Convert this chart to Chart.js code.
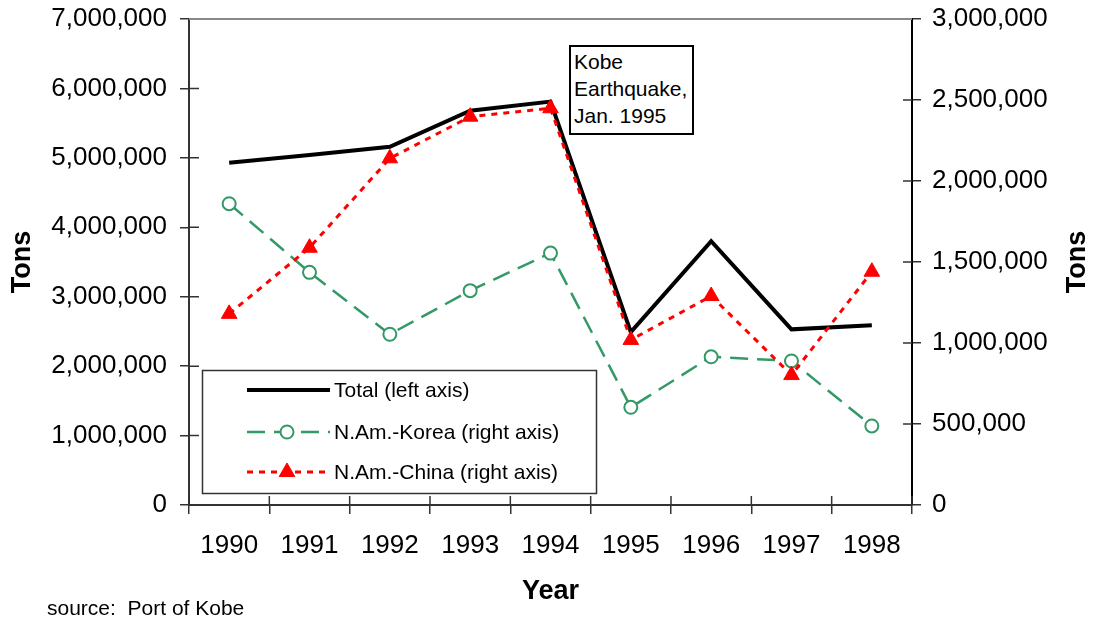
<!DOCTYPE html>
<html>
<head>
<meta charset="utf-8">
<script src="https://cdn.jsdelivr.net/npm/chart.js@4.4.1/dist/chart.umd.min.js"></script>
<style>
  html, body { margin: 0; padding: 0; background: #fff; }
  #wrap { position: relative; width: 1096px; height: 623px; overflow: hidden; }
  canvas { display: block; }
  .note {
    position: absolute; left: 569px; top: 45px; width: 118px; height: 85px;
    border: 2px solid #000; background: #fff; color: #000;
    font: 21px 'Liberation Sans', Arial, sans-serif; line-height: 27px;
    padding: 1px 0 0 3px;
  }
  .source {
    position: absolute; left: 47px; top: 596px; color: #000;
    font: 21px 'Liberation Sans', Arial, sans-serif; white-space: pre;
  }
</style>
</head>
<body>
<div id="wrap">
  <canvas id="c" width="1096" height="623"></canvas>
  <div class="note">Kobe<br>Earthquake,<br>Jan. 1995</div>
  <div class="source">source:  Port of Kobe</div>
</div>
<script>
// Cargo through the Port of Kobe, tons per year
const years = ['1990', '1991', '1992', '1993', '1994', '1995', '1996', '1997', '1998'];
const totalTons = [4930000, 5040000, 5160000, 5680000, 5810000, 2490000, 3800000, 2530000, 2590000];
const koreaTons = [1860000, 1436000, 1054000, 1323000, 1555000, 603000, 915000, 889000, 488000];
const chinaTons = [1180000, 1588000, 2140000, 2397000, 2449000, 1019000, 1290000, 802000, 1440000];

// Axis ranges and tick steps
const leftAxisMax = 7000000, leftAxisStep = 1000000;
const rightAxisMax = 3000000, rightAxisStep = 500000;

const FONT = "'Liberation Sans', Arial, sans-serif";
const AXIS_COLOR = '#333';
const GREEN = '#339966';
const RED = '#ff0000';

const fmt = v => Number(v).toLocaleString('en-US');

// Tick marks that cross into the plot, the grey top frame and the right-hand title
const framePlugin = {
  id: 'frame',
  beforeDatasetsDraw(chart) {
    const { ctx, chartArea: a, scales } = chart;
    ctx.save();
    ctx.strokeStyle = AXIS_COLOR;
    ctx.lineWidth = 1.5;
    ctx.beginPath();
    scales.y.ticks.forEach(t => {
      const p = scales.y.getPixelForValue(t.value);
      ctx.moveTo(a.left, p); ctx.lineTo(a.left + 10, p);
    });
    scales.y1.ticks.forEach(t => {
      const p = scales.y1.getPixelForValue(t.value);
      ctx.moveTo(a.right, p); ctx.lineTo(a.right - 9, p);
    });
    for (let i = 0; i <= years.length; i++) {
      const p = scales.x.getPixelForValue(i - 0.5);
      ctx.moveTo(p, a.bottom); ctx.lineTo(p, a.bottom - 9);
    }
    ctx.stroke();
    ctx.strokeStyle = '#888';
    ctx.lineWidth = 2;
    ctx.beginPath();
    ctx.moveTo(a.left, a.top); ctx.lineTo(a.right, a.top);
    ctx.stroke();
    ctx.restore();
  },
  afterDraw(chart) {
    const { ctx, chartArea: a } = chart;
    ctx.save();
    ctx.translate(chart.width - 18, (a.top + a.bottom) / 2);
    ctx.rotate(-Math.PI / 2);
    ctx.fillStyle = '#000';
    ctx.font = 'bold 27px ' + FONT;
    ctx.textAlign = 'center';
    ctx.textBaseline = 'middle';
    ctx.fillText('Tons', 0, 0);
    ctx.restore();
  }
};

// Boxed legend inside the lower-left of the plot
const boxLegend = {
  id: 'boxLegend',
  afterDatasetsDraw(chart) {
    const { ctx, chartArea: a } = chart;
    const bx = a.left + 13, by = 370, bw = 394, bh = 123;
    ctx.save();
    ctx.fillStyle = '#fff';
    ctx.fillRect(bx, by, bw, bh);
    ctx.strokeStyle = '#333';
    ctx.lineWidth = 1.5;
    ctx.strokeRect(bx + 0.5, by + 0.5, bw, bh);
    const rowsY = [390, 432, 472];
    const x0 = bx + 45, x1 = bx + 128, xm = bx + 85;
    [0, 1, 2].forEach((di, r) => {
      const ds = chart.data.datasets[di];
      const y = rowsY[r];
      ctx.strokeStyle = ds.borderColor;
      ctx.lineWidth = ds.borderWidth;
      ctx.setLineDash(ds.borderDash || []);
      ctx.beginPath();
      ctx.moveTo(x0, y); ctx.lineTo(x1, y);
      ctx.stroke();
      ctx.setLineDash([]);
      if (ds.pointRadius > 0) {
        ctx.fillStyle = ds.pointBackgroundColor;
        ctx.strokeStyle = ds.pointBorderColor;
        ctx.lineWidth = ds.pointBorderWidth;
        Chart.helpers.drawPoint(ctx, {
          pointStyle: ds.pointStyle, radius: ds.pointRadius,
          rotation: 0, borderWidth: ds.pointBorderWidth
        }, xm, y);
      }
      ctx.fillStyle = '#000';
      ctx.font = '21px ' + FONT;
      ctx.textAlign = 'left';
      ctx.textBaseline = 'middle';
      ctx.fillText(ds.label, x1 + 4, y + 1);
    });
    ctx.restore();
  }
};

const noEdgePadding = s => { s.paddingTop = 0; s.paddingBottom = 0; };

new Chart(document.getElementById('c'), {
  type: 'line',
  data: {
    labels: years,
    datasets: [
      {
        label: 'Total (left axis)', data: totalTons, yAxisID: 'y', order: 3,
        borderColor: '#000', borderWidth: 4, pointRadius: 0, fill: false
      },
      {
        label: 'N.Am.-Korea (right axis)', data: koreaTons, yAxisID: 'y1', order: 2,
        borderColor: GREEN, borderWidth: 2.5, borderDash: [18, 9], fill: false,
        pointStyle: 'circle', pointRadius: 6.5, pointBorderWidth: 2,
        pointBorderColor: GREEN, pointBackgroundColor: '#fff'
      },
      {
        label: 'N.Am.-China (right axis)', data: chinaTons, yAxisID: 'y1', order: 1,
        borderColor: RED, borderWidth: 3, borderDash: [6, 6], fill: false,
        pointStyle: 'triangle', pointRadius: 9, pointBorderWidth: 1,
        pointBorderColor: RED, pointBackgroundColor: RED
      }
    ]
  },
  options: {
    responsive: false,
    animation: false,
    devicePixelRatio: 1,
    layout: { padding: { left: 0, right: 0, top: 19, bottom: 14 } },
    elements: { line: { tension: 0 } },
    plugins: { legend: { display: false }, tooltip: { enabled: false } },
    scales: {
      x: {
        type: 'category',
        offset: true,
        grid: { display: true, offset: true, drawOnChartArea: false, drawTicks: true,
                tickLength: 9, color: AXIS_COLOR, lineWidth: 1.5 },
        border: { display: true, color: AXIS_COLOR, width: 2 },
        ticks: { color: '#000', font: { family: FONT, size: 26 }, padding: 16,
                 maxRotation: 0, autoSkip: false },
        title: { display: true, text: 'Year', color: '#000',
                 font: { family: FONT, size: 27, weight: 'bold' }, padding: { top: 0, bottom: 1 } },
        afterFit(s) { s.height = 104; s.paddingLeft = 0; s.paddingRight = 0; }
      },
      y: {
        position: 'left',
        min: 0, max: leftAxisMax,
        grid: { display: true, drawOnChartArea: false, drawTicks: true,
                tickLength: 9, color: AXIS_COLOR, lineWidth: 1.5 },
        border: { display: true, color: AXIS_COLOR, width: 2 },
        ticks: { stepSize: leftAxisStep, callback: fmt, color: '#000',
                 font: { family: FONT, size: 26 }, padding: 13 },
        title: { display: true, text: 'Tons', color: '#000',
                 font: { family: FONT, size: 27, weight: 'bold' }, padding: { top: 6, bottom: 0 } },
        afterFit(s) { s.width = 189; noEdgePadding(s); }
      },
      y1: {
        position: 'right',
        min: 0, max: rightAxisMax,
        grid: { display: true, drawOnChartArea: false, drawTicks: true,
                tickLength: 9, color: AXIS_COLOR, lineWidth: 1.5 },
        border: { display: true, color: '#000', width: 2 },
        ticks: { stepSize: rightAxisStep, callback: fmt, color: '#000',
                 font: { family: FONT, size: 26 }, padding: 11 },
        afterFit(s) { s.width = 184; noEdgePadding(s); }
      }
    }
  },
  plugins: [framePlugin, boxLegend]
});
</script>
</body>
</html>
